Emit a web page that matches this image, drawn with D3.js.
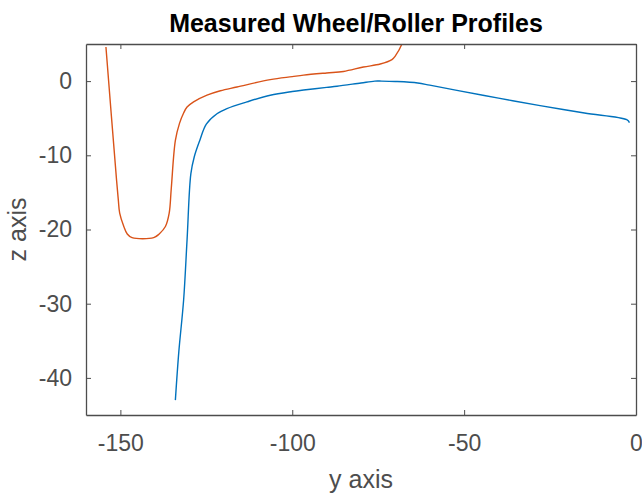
<!DOCTYPE html>
<html>
<head>
<meta charset="utf-8">
<script src="https://cdn.jsdelivr.net/npm/d3@7"></script>
<style>
  html, body { margin: 0; padding: 0; background: #fff; }
  svg { display: block; font-family: "Liberation Sans", Arial, Helvetica, sans-serif; }
</style>
</head>
<body>
<svg id="chart" width="642" height="495"></svg>
<script>
// Lateral (y) and vertical (z) coordinates of the two measured profiles
const wheelY = [-134.0, -133.0, -131.6, -130.6, -129.5, -128.5, -126.9, -125.0, -121.9, -119.0, -113.2, -106.4, -100.0, -96.7, -90.0, -87.0, -80.0, -76.0, -74.0, -70.0, -63.5, -60.0, -52.1, -40.0, -27.9, -15.0, -2.7, -1.9];
const wheelZ = [-43.0, -36.5, -29.5, -21.4, -12.5, -10.2, -8.0, -5.8, -4.4, -3.7, -2.8, -1.9, -1.4, -1.2, -0.85, -0.7, -0.25, 0.0, 0.0, -0.05, -0.25, -0.55, -1.25, -2.3, -3.3, -4.3, -5.2, -5.6];

const rollerY = [-154.2, -151.1, -150.6, -150.2, -149.0, -148.0, -146.6, -140.3, -138.7, -136.9, -135.8, -135.2, -134.0, -132.8, -131.6, -130.6, -128.7, -124.8, -120.9, -116.1, -106.4, -100.0, -96.7, -90.0, -85.1, -79.3, -74.4, -71.0, -70.0, -68.1, -67.4];
const rollerZ = [4.6, -13.4, -16.0, -17.8, -19.6, -20.6, -21.1, -21.1, -20.6, -19.6, -17.8, -14.5, -8.0, -5.7, -4.3, -3.5, -2.8, -1.9, -1.3, -0.8, 0.2, 0.6, 0.8, 1.1, 1.3, 1.9, 2.3, 2.9, 3.4, 5.0, 6.2];

const xTicks = [-150, -100, -50, 0];
const yTicks = [0, -10, -20, -30, -40];
const xDomain = [-160, 0];
const yDomain = [-45, 5];

const titleText = "Measured Wheel/Roller Profiles";
const xLabel = "y axis";
const yLabel = "z axis";

const seriesColors = ["#0072BD", "#D95319"];

const svg = d3.select("#chart");
const plot = { left: 86, right: 636, top: 44, bottom: 415 };

const x = d3.scaleLinear().domain(xDomain).range([plot.left, plot.right]);
const y = d3.scaleLinear().domain(yDomain).range([plot.bottom, plot.top]);

const axisColor = "#4d4d4d";
const tickFont = "23px";
const labelFont = "25px";

svg.append("defs").append("clipPath").attr("id", "plotClip")
  .append("rect")
  .attr("x", plot.left).attr("y", plot.top)
  .attr("width", plot.right - plot.left).attr("height", plot.bottom - plot.top);

const series = [
  { ys: wheelY, zs: wheelZ },
  { ys: rollerY, zs: rollerZ }
];

const line = d3.line()
  .x(d => x(d[0]))
  .y(d => y(d[1]))
  .curve(d3.curveCatmullRom.alpha(0.5));

const lineLayer = svg.append("g").attr("clip-path", "url(#plotClip)");
series.forEach((s, i) => {
  const pts = s.ys.map((v, k) => [v, s.zs[k]]);
  lineLayer.append("path")
    .datum(pts)
    .attr("d", line)
    .attr("fill", "none")
    .attr("stroke", seriesColors[i])
    .attr("stroke-width", 1.4)
    .attr("stroke-linejoin", "round");
});

// Box axes with inward ticks on all four sides
const tickLen = 5;
const fmt = d => String(d);
function styleAxis(sel) {
  sel.select(".domain").attr("stroke", axisColor).attr("stroke-width", 1.3);
  sel.selectAll(".tick line").attr("stroke", axisColor).attr("stroke-width", 1);
  sel.selectAll(".tick text").attr("fill", axisColor).style("font-size", tickFont);
}

const axisB = svg.append("g")
  .attr("transform", `translate(0,${plot.bottom})`)
  .call(d3.axisBottom(x).tickValues(xTicks).tickSize(-tickLen).tickSizeOuter(0).tickPadding(20).tickFormat(fmt));
styleAxis(axisB);

const axisT = svg.append("g")
  .attr("transform", `translate(0,${plot.top})`)
  .call(d3.axisTop(x).tickValues(xTicks).tickSize(-tickLen).tickSizeOuter(0).tickFormat(""));
styleAxis(axisT);

const axisL = svg.append("g")
  .attr("transform", `translate(${plot.left},0)`)
  .call(d3.axisLeft(y).tickValues(yTicks).tickSize(-tickLen).tickSizeOuter(0).tickPadding(14).tickFormat(fmt));
styleAxis(axisL);

const axisR = svg.append("g")
  .attr("transform", `translate(${plot.right},0)`)
  .call(d3.axisRight(y).tickValues(yTicks).tickSize(-tickLen).tickSizeOuter(0).tickFormat(""));
styleAxis(axisR);

// Title and axis labels
svg.append("text")
  .attr("x", 356)
  .attr("y", 32)
  .attr("text-anchor", "middle")
  .attr("font-weight", "bold")
  .attr("font-size", "25px")
  .attr("fill", "#000")
  .text(titleText);

svg.append("text")
  .attr("x", (plot.left + plot.right) / 2)
  .attr("y", 488)
  .attr("text-anchor", "middle")
  .attr("font-size", labelFont)
  .attr("fill", axisColor)
  .text(xLabel);

svg.append("text")
  .attr("transform", `translate(26,${(plot.top + plot.bottom) / 2}) rotate(-90)`)
  .attr("text-anchor", "middle")
  .attr("font-size", labelFont)
  .attr("fill", axisColor)
  .text(yLabel);
</script>
</body>
</html>
